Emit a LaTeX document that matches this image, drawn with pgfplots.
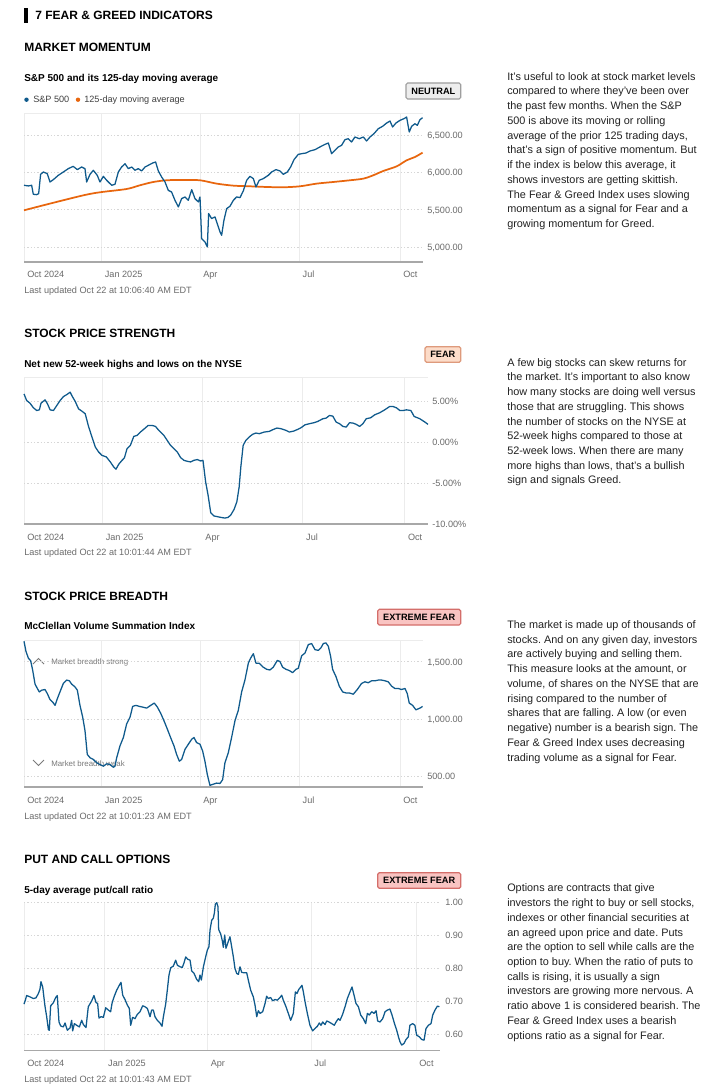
\documentclass[border=0pt]{standalone}
\usepackage{pgfplots}
\pgfplotsset{compat=1.18}
\usepackage{fontspec}
\setmainfont{Liberation Sans}
\frenchspacing

\definecolor{spblue}{HTML}{0F5A8C}
\definecolor{maorange}{HTML}{E8660E}
\definecolor{gridv}{HTML}{ECECEC}
\definecolor{gridh}{HTML}{D6D6D6}
\definecolor{axisc}{HTML}{A8A8A8}
\definecolor{tickc}{HTML}{6B6B6B}
\definecolor{bodyc}{HTML}{222222}
\definecolor{annc}{HTML}{7A7A7A}
\definecolor{neufill}{HTML}{EDEDED}
\definecolor{neudraw}{HTML}{9E9E9E}
\definecolor{fearfill}{HTML}{FCDCC9}
\definecolor{feardraw}{HTML}{DE9A7C}
\definecolor{xfearfill}{HTML}{F9C4C2}
\definecolor{xfeardraw}{HTML}{D46E6A}

\newcommand\bodyfont{\fontsize{8.15}{10}\selectfont}
\newcommand\secfont{\fontsize{9}{11}\selectfont\bfseries}
\newcommand\subfont{\fontsize{7.5}{9}\selectfont\bfseries}
\newcommand\smallfont{\fontsize{6.85}{8}\selectfont}
\newcommand\badgefont{\fontsize{6.9}{8}\selectfont\bfseries}
\newcommand\annfont{\fontsize{5.9}{7}\selectfont}

\pgfplotsset{fgaxis/.style={
 scale only axis, anchor=south west,
 xmin=0, xmax=365,
 xtick={0,71,161,252,344},
 xticklabels={Oct 2024,Jan 2025,Apr,Jul,Oct},
 axis line style={draw=none},
 major tick length=0pt,
 xmajorgrids, ymajorgrids,
 x grid style={draw=gridv,line width=0.75pt},
 y grid style={draw=gridh,line width=0.75pt,dash pattern=on 1pt off 1.5pt},
 yticklabel pos=right,
 tick label style={font=\smallfont, text=tickc, inner sep=0pt},
 xticklabel style={anchor=base west, xshift=2.25pt, yshift=-11.4pt},
 yticklabel style={anchor=base west, xshift=3pt, yshift=-2.4pt},
 clip=false,
}}

\newcommand\bl[2]{\node[anchor=base west,inner sep=0pt,font=\bodyfont,text=bodyc] at (507,#1) {#2};}

\begin{document}
\begin{tikzpicture}[x=0.75pt,y=-0.75pt]
\path[use as bounding box, fill=white] (0,0) rectangle (720,1088);

% ---------- main title ----------
\fill[black] (24,8) rectangle (28,23);
\node[anchor=base west,inner sep=0pt,font=\secfont] at (35,19.3) {7 FEAR \& GREED INDICATORS};

% ---------- Panel 1 ----------
\node[anchor=base west,inner sep=0pt,font=\secfont] at (24,52) {MARKET MOMENTUM};
\node[anchor=base west,inner sep=0pt,font=\subfont] at (24,81.9) {S\&P 500 and its 125-day moving average};
\fill[spblue] (26.5,99.7) circle (2.2);
\node[anchor=base west,inner sep=0pt,font=\smallfont,text=black!75] at (33,103) {S\&P 500};
\fill[maorange] (78,99.7) circle (2.2);
\node[anchor=base west,inner sep=0pt,font=\smallfont,text=black!75] at (84,103) {125-day moving average};
\draw[rounded corners=1.2pt, fill=neufill, draw=neudraw, line width=0.9pt] (406,83) rectangle (460.7,99);
\node[inner sep=0pt,font=\badgefont] at (433.35,91) {NEUTRAL};

\begin{axis}[fgaxis, at={(18pt,-196.5pt)}, width=299.25pt, height=111.75pt,
  ymin=4800, ymax=6800, ytick={5000,5500,6000,6500},
  yticklabels={{5,000.00},{5,500.00},{6,000.00},{6,500.00}}]
\draw[gridv, line width=0.75pt] (rel axis cs:0,1) -- (rel axis cs:1,1);
\addplot[maorange, line width=1.3pt, smooth] table {
d v
0 5494
23.8 5584
54.3 5695
69.5 5736
93.9 5780
106.1 5830
118.3 5874
130.5 5897
145.7 5901
161 5897
176.2 5852
191.5 5825
206.7 5816
222 5807
237.2 5803
252.4 5816
267.7 5852
282.9 5874
298.2 5897
310.4 5919
319.5 5964
328.7 6022
340.9 6084
350 6165
357.6 6209
364.6 6268
};
\addplot[spblue, line width=0.95pt, line join=round] table {
d v
0 5830
4 5821
7 5830
8.5 5709
11.6 5704
13.4 5718
15.2 5977
17.7 6008
21.3 5986
23.8 5874
26.8 5905
31.4 5964
36 6008
40.5 6053
45 6084
48.8 6040
52.7 6075
55.8 6053
57.3 5874
60.4 5977
63.4 6031
67 5964
69.5 5874
72.6 5950
75.6 5897
80.2 5830
83.2 5843
86.3 6008
89.3 6075
92.4 6120
95.4 6053
98.5 6075
101.5 6031
104.6 6053
107.6 6022
110.7 6075
113.7 6098
117.7 6129
120.4 6142
122.9 6022
125.9 5941
129 5874
132 5762
135 5740
138.1 5628
141.2 5539
144.2 5651
147.3 5673
150.3 5628
153.4 5771
156.4 5651
159.5 5606
161 5673
162.5 5114
165.5 5070
167.7 5003
168.9 5450
171.6 5383
174.7 5405
176.8 5315
179.3 5204
180.8 5159
182.9 5360
185.4 5517
188.4 5548
191.5 5628
194.5 5673
197.6 5664
200.6 5754
203.7 5897
206.7 5950
209.8 5919
212.2 5807
215.2 5897
218.9 5919
223.5 5964
226.5 6008
230.5 6040
234.1 6022
237.2 5977
240.9 6008
243.9 6075
247 6174
250.9 6245
254 6254
257.9 6263
261.6 6290
266.2 6308
270.7 6344
275.3 6379
278.4 6397
281.4 6254
284.5 6299
287.5 6344
290.5 6366
293.6 6442
296.6 6455
299.7 6411
302.7 6478
306.7 6455
310.4 6478
313.4 6424
316.5 6478
320.1 6522
324.1 6589
328 6621
331.7 6665
334.8 6692
337.2 6612
340.2 6665
343.9 6701
347.6 6724
350 6746
352.4 6545
354.6 6621
357.6 6656
359.8 6634
362.2 6710
364.6 6737
};
\draw[axisc, line width=0.9pt] (rel axis cs:0,0) -- (rel axis cs:1,0);
\end{axis}
\node[anchor=base west,inner sep=0pt,font=\smallfont,text=tickc] at (24,293.3) {Last updated Oct 22 at 10:06:40 AM EDT};

\bl{80.2}{It’s useful to look at stock market levels}
\bl{94.93}{compared to where they’ve been over}
\bl{109.66}{the past few months. When the S\&P}
\bl{124.39}{500 is above its moving or rolling}
\bl{139.12}{average of the prior 125 trading days,}
\bl{153.85}{that’s a sign of positive momentum. But}
\bl{168.58}{if the index is below this average, it}
\bl{183.31}{shows investors are getting skittish.}
\bl{198.04}{The Fear \& Greed Index uses slowing}
\bl{212.77}{momentum as a signal for Fear and a}
\bl{227.5}{growing momentum for Greed.}

% ---------- Panel 2 ----------
\node[anchor=base west,inner sep=0pt,font=\secfont] at (24,337.6) {STOCK PRICE STRENGTH};
\node[anchor=base west,inner sep=0pt,font=\subfont] at (24,367) {Net new 52-week highs and lows on the NYSE};
\draw[rounded corners=1.2pt, fill=fearfill, draw=feardraw, line width=0.9pt] (425,346.7) rectangle (460.7,362.3);
\node[inner sep=0pt,font=\badgefont] at (442.85,354.5) {FEAR};

\begin{axis}[fgaxis, at={(18pt,-393pt)}, width=303pt, height=110.25pt,
  ymin=-10, ymax=8, ytick={-10,-5,0,5},
  yticklabels={-10.00\%,-5.00\%,0.00\%,5.00\%},
  xticklabel style={yshift=-0.8pt}]
\draw[gridv, line width=0.75pt] (rel axis cs:0,1) -- (rel axis cs:1,1);
\addplot[spblue, line width=0.95pt, line join=round] table {
d v
0 5.93
2.4 5.12
5.4 4.8
8.5 4.23
11.5 3.9
13.9 3.98
15.4 4.8
19 5.2
21.2 4.72
23.6 3.98
26.6 3.9
29.6 4.51
32.6 5.12
35.7 5.61
38.7 5.85
41.7 6.14
43.2 5.73
46.3 5.0
49.3 4.1
52.3 3.82
55.3 3.5
58.3 1.95
61.4 0.65
64.4 -0.57
67.4 -1.18
70.4 -1.59
74.4 -1.79
78 -2.4
81 -3.0
83.1 -3.29
85.6 -2.68
88.6 -2.2
90.7 -1.91
93.1 -0.77
96.1 -0.37
99.2 0.73
102.2 0.85
105.2 1.26
108.8 1.67
112.2 2.07
115.8 2.07
118.8 1.95
121.8 1.46
126.4 0.85
129.4 0.24
132.4 -0.37
135.4 -0.77
138.5 -1.18
141.5 -1.87
144.5 -2.2
147.5 -2.32
150.5 -2.4
153.6 -2.2
156.6 -2.11
159.6 -2.28
161.7 -2.2
164.1 -4.84
166.3 -6.46
168.7 -8.62
171.7 -9.02
174.7 -9.1
177.8 -9.19
181.4 -9.27
184.4 -9.19
186.8 -8.9
189.8 -8.21
192.3 -7.28
194.4 -5.45
195.9 -3.0
198 -0.37
200.4 0.24
203.4 0.65
206.5 0.98
209.5 1.14
212.5 1.06
217.1 1.26
221.6 1.34
224.6 1.54
228.5 1.75
232.2 1.67
236.7 1.46
239.7 1.26
243.7 1.38
247.3 1.59
250.3 1.79
253.9 2.15
257.9 2.28
261.8 2.4
265.4 2.56
270 2.89
273 2.97
276 3.29
279 3.21
282 2.48
285.1 2.28
288.1 1.95
291.1 1.87
294.1 2.4
297.2 2.36
300.2 2.2
303.2 1.95
306.2 2.28
309.2 2.89
313.2 3.01
316.8 3.37
321.3 3.62
325.9 3.98
330.4 4.39
333.4 4.39
336.5 4.23
339.5 3.9
342.5 3.9
345.5 3.98
349.5 3.9
352.5 3.17
357.6 2.89
362.2 2.48
365 2.2
};
\draw[axisc, line width=0.9pt] (rel axis cs:0,0) -- (rel axis cs:1,0);
\end{axis}
\node[anchor=base west,inner sep=0pt,font=\smallfont,text=tickc] at (24,555.6) {Last updated Oct 22 at 10:01:44 AM EDT};

\bl{366.1}{A few big stocks can skew returns for}
\bl{380.83}{the market. It’s important to also know}
\bl{395.56}{how many stocks are doing well versus}
\bl{410.29}{those that are struggling. This shows}
\bl{425.02}{the number of stocks on the NYSE at}
\bl{439.75}{52-week highs compared to those at}
\bl{454.48}{52-week lows. When there are many}
\bl{469.21}{more highs than lows, that’s a bullish}
\bl{483.94}{sign and signals Greed.}

% ---------- Panel 3 ----------
\node[anchor=base west,inner sep=0pt,font=\secfont] at (24,600.3) {STOCK PRICE BREADTH};
\node[anchor=base west,inner sep=0pt,font=\subfont] at (24,629.7) {McClellan Volume Summation Index};
\draw[rounded corners=1.2pt, fill=xfearfill, draw=xfeardraw, line width=0.9pt] (377.7,609.3) rectangle (460.7,625);
\node[inner sep=0pt,font=\badgefont] at (419.2,617.2) {EXTREME FEAR};

\draw[annc, line width=0.6pt] (33,664) -- (38.5,658.5) -- (44,664);
\node[anchor=base west,inner sep=0pt,font=\annfont,text=annc] at (51,664.5) {Market breadth strong};
\draw[annc, line width=0.6pt] (33,760) -- (38.5,765.5) -- (44,760);
\node[anchor=base west,inner sep=0pt,font=\annfont,text=annc] at (51,766.5) {Market breadth weak};

\begin{axis}[fgaxis, at={(18pt,-590.25pt)}, width=299.25pt, height=110.25pt,
  ymin=410, ymax=1690, ytick={500,1000,1500},
  yticklabels={{500.00},{1,000.00},{1,500.00}},
  xticklabel style={yshift=-0.8pt}]
\draw[gridv, line width=0.75pt] (rel axis cs:0,1) -- (rel axis cs:1,1);
\addplot[spblue, line width=0.95pt, line join=round] table {
d v
0 1679
1.8 1591
4 1532
6.1 1509
7.9 1429
10.1 1306
12.2 1268
14 1238
16.2 1253
19.2 1259
21.3 1224
23.8 1171
26.2 1150
28.4 1121
30.5 1179
32.9 1238
36 1312
39 1341
41.5 1335
43.6 1306
46.6 1282
48.8 1253
51.2 1121
53.7 1018
55.8 900
57.9 694
60.4 665
63.4 650
66.5 621
69.5 606
72.6 591
75.6 612
78.7 606
81.7 582
83.2 591
84.8 665
87.8 768
90.9 841
93.9 959
97 1018
99.4 1112
102.4 1121
105.5 1112
108.5 1106
112.2 1097
115.9 1121
119.2 1141
122 1106
125 1053
128 988
131.1 915
134.1 841
137.2 768
139.6 694
142.1 635
144.2 650
147.3 738
150.3 782
153.4 826
155.5 841
157.9 797
161 782
163.4 724
165.5 635
167.7 518
170.1 424
173.2 435
176.2 444
179.3 441
181.7 474
183.8 621
186.9 709
189.9 841
193 988
196 1076
199.1 1238
202.1 1341
205.2 1488
207.3 1532
209.8 1571
212.2 1488
215.2 1488
218.9 1453
222 1435
225 1429
228 1453
231.7 1512
234.1 1503
236.6 1453
239.6 1435
242.7 1424
245.7 1406
248.8 1435
250.9 1444
254 1553
257 1576
260.1 1650
263.1 1659
266.2 1606
269.2 1600
271.6 1621
273.8 1659
276.2 1665
278.4 1635
280.5 1547
282.3 1435
285.4 1371
288.4 1288
291.5 1238
294.5 1229
297.6 1229
301.2 1218
304.9 1259
308.8 1312
311.9 1326
314.9 1318
318 1335
321 1335
324.1 1341
327.1 1341
330.2 1335
333.2 1326
336.3 1288
339.3 1268
342.4 1268
345.4 1259
348.5 1268
350.6 1224
352.4 1141
355.5 1121
358.5 1082
360.7 1091
362.8 1100
364.6 1112
};
\draw[axisc, line width=0.9pt] (rel axis cs:0,0) -- (rel axis cs:1,0);
\end{axis}
\node[anchor=base west,inner sep=0pt,font=\smallfont,text=tickc] at (24,819) {Last updated Oct 22 at 10:01:23 AM EDT};

\bl{628.5}{The market is made up of thousands of}
\bl{643.23}{stocks. And on any given day, investors}
\bl{657.96}{are actively buying and selling them.}
\bl{672.69}{This measure looks at the amount, or}
\bl{687.42}{volume, of shares on the NYSE that are}
\bl{702.15}{rising compared to the number of}
\bl{716.88}{shares that are falling. A low (or even}
\bl{731.61}{negative) number is a bearish sign. The}
\bl{746.34}{Fear \& Greed Index uses decreasing}
\bl{761.07}{trading volume as a signal for Fear.}

% ---------- Panel 4 ----------
\node[anchor=base west,inner sep=0pt,font=\secfont] at (24,863.3) {PUT AND CALL OPTIONS};
\node[anchor=base west,inner sep=0pt,font=\subfont] at (24,893) {5-day average put/call ratio};
\draw[rounded corners=1.2pt, fill=xfearfill, draw=xfeardraw, line width=0.9pt] (377.7,872.7) rectangle (460.7,888.3);
\node[inner sep=0pt,font=\badgefont] at (419.2,880.5) {EXTREME FEAR};

\begin{axis}[fgaxis, at={(18pt,-788.025pt)}, width=312pt, height=111.5pt,
  ymin=0.55, ymax=1.0, ytick={0.6,0.7,0.8,0.9,1.0},
  yticklabels={0.60,0.70,0.80,0.90,1.00},
  yticklabel style={xshift=0.75pt},
  xticklabel style={yshift=-0.1pt}]
\addplot[spblue, line width=0.95pt, line join=round] table {
d v
0 0.691
1.2 0.703
2.3 0.717
5.3 0.713
8.2 0.708
10.5 0.710
12.6 0.723
14 0.736
14.9 0.759
16.4 0.743
18.4 0.685
19.9 0.653
21.4 0.614
22.2 0.612
23.4 0.686
25.7 0.695
27.8 0.711
29.2 0.717
30.7 0.637
32.2 0.625
34.5 0.622
36 0.634
38 0.612
40.4 0.619
41.8 0.642
42.7 0.610
44.2 0.632
46.2 0.627
48.6 0.622
50.6 0.642
52.1 0.629
54.4 0.620
56.4 0.683
59.4 0.701
61.4 0.717
63.2 0.696
64.6 0.693
65.8 0.649
67.6 0.653
69.6 0.651
71.7 0.680
74 0.673
76 0.668
77.2 0.693
79 0.713
81.3 0.733
83.6 0.748
85.1 0.757
86.6 0.718
88.6 0.705
90.7 0.688
92.4 0.678
93.6 0.627
95.3 0.651
97.4 0.647
99.4 0.660
101.8 0.668
104.1 0.686
106.2 0.683
108.2 0.678
110.6 0.653
112 0.673
113.5 0.673
114.9 0.653
117 0.642
119.3 0.634
121.1 0.624
122.3 0.653
124.3 0.691
125.8 0.735
127.2 0.779
128.7 0.801
131 0.806
133.1 0.824
134.5 0.809
136.9 0.804
138.9 0.802
140.4 0.816
141.9 0.834
143.6 0.827
145.7 0.824
147.1 0.792
149.2 0.784
151.5 0.766
153.3 0.759
154.4 0.779
155.6 0.764
157.4 0.804
159.4 0.834
160.9 0.855
162.3 0.865
163.2 0.915
164.7 0.945
166.1 0.951
167 0.966
167.9 0.994
169.1 0.998
170.2 0.986
170.8 0.917
172.6 0.903
174 0.883
174.9 0.863
176.1 0.900
177.2 0.860
178.7 0.875
180.7 0.895
182.2 0.865
183.7 0.834
185.1 0.799
186.6 0.784
188.1 0.781
189.5 0.804
191 0.787
193 0.786
195.4 0.786
196.8 0.764
198.9 0.733
201.2 0.713
202.7 0.688
204.2 0.653
205.6 0.671
207.1 0.663
209.4 0.668
211.5 0.693
212.9 0.715
214.4 0.708
216.4 0.711
218.2 0.701
220.2 0.705
222.3 0.703
224.6 0.711
226.1 0.718
227.5 0.703
229.9 0.683
231.9 0.663
234 0.642
236.3 0.663
238.1 0.728
239.5 0.723
241 0.735
242.8 0.743
243.9 0.748
245.1 0.728
246.6 0.698
248.6 0.663
250.9 0.627
253.3 0.610
255.3 0.617
257.4 0.624
259.1 0.634
260.6 0.627
262.1 0.637
264.1 0.629
265.6 0.640
267.6 0.637
270 0.632
272.3 0.627
273.8 0.637
275.8 0.647
277.3 0.642
279.3 0.658
281.7 0.683
283.7 0.708
286 0.728
287.8 0.743
289.6 0.718
291.3 0.693
293.4 0.683
295.4 0.658
297.7 0.647
299.8 0.632
301.3 0.663
303 0.658
305.1 0.668
307.1 0.663
308.9 0.671
310.3 0.640
312.4 0.637
314.7 0.647
316.8 0.668
318.8 0.673
321.1 0.676
322.9 0.658
324.9 0.634
327 0.612
328.7 0.590
329.9 0.577
331.4 0.567
333.4 0.572
335.2 0.584
337.2 0.592
338.6 0.627
341 0.632
343 0.627
344.5 0.597
346.9 0.592
348.9 0.584
351 0.582
352.7 0.617
354.8 0.627
357.1 0.632
358.6 0.658
360.6 0.673
362.7 0.685
364.4 0.683
};
\draw[axisc, line width=0.9pt] (rel axis cs:0,0) -- (rel axis cs:1,0);
\end{axis}
\node[anchor=base west,inner sep=0pt,font=\smallfont,text=tickc] at (24,1082) {Last updated Oct 22 at 10:01:43 AM EDT};

\bl{891.8}{Options are contracts that give}
\bl{906.53}{investors the right to buy or sell stocks,}
\bl{921.26}{indexes or other financial securities at}
\bl{935.99}{an agreed upon price and date. Puts}
\bl{950.72}{are the option to sell while calls are the}
\bl{965.45}{option to buy. When the ratio of puts to}
\bl{980.18}{calls is rising, it is usually a sign}
\bl{994.91}{investors are growing more nervous. A}
\bl{1009.64}{ratio above 1 is considered bearish. The}
\bl{1024.37}{Fear \& Greed Index uses a bearish}
\bl{1039.1}{options ratio as a signal for Fear.}
\end{tikzpicture}
\end{document}
